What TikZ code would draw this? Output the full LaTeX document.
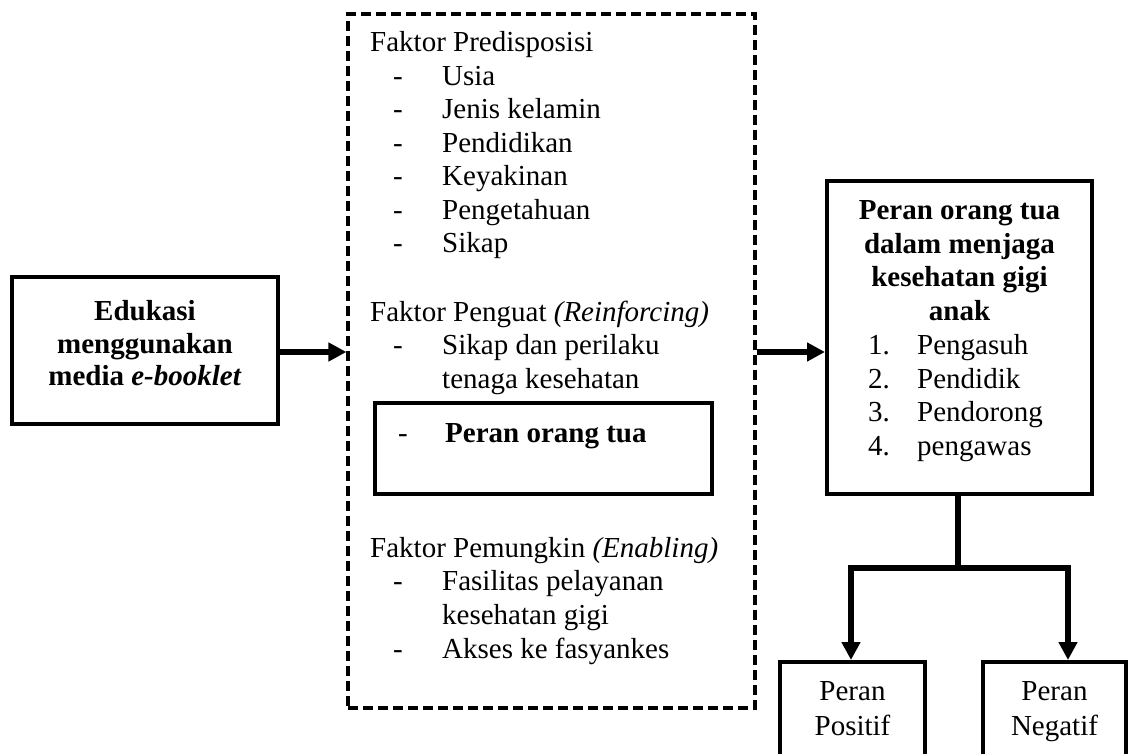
\documentclass[tikz,border=0pt]{standalone}
\usepackage{fontspec}
\setmainfont{Liberation Serif}
\usetikzlibrary{arrows.meta}
\newcommand{\fsz}{\fontsize{29}{33.5}\selectfont}
\tikzset{
  boxn/.style={draw, line width=4pt, inner sep=0pt, line join=miter},
  dashbox/.style={draw, line width=3.2pt, inner sep=0pt, dash pattern=on 10pt off 5pt},
  txt/.style={anchor=base west, inner sep=0pt, font=\fsz},
  ctxt/.style={anchor=base, inner sep=0pt, font=\fsz},
  arr/.style={line width=6pt, -{Triangle[length=18pt,width=18pt]}},
  lin/.style={line width=6pt}
}
\begin{document}
\begin{tikzpicture}[x=1pt,y=-1pt]
\useasboundingbox (0,0) rectangle (1128,754);
\clip (0,0) rectangle (1128,754);
% boxes
\node[boxn, minimum width=266pt, minimum height=147pt] (left) at (145,350.5) {};
\node[dashbox, minimum width=407pt, minimum height=694pt] (dash) at (551.5,361) {};
\node[boxn, minimum width=337pt, minimum height=91pt] (inner) at (543.5,448.5) {};
\node[boxn, minimum width=265pt, minimum height=313pt] (right) at (959.5,337.5) {};
\node[boxn, minimum width=145pt, minimum height=138pt] (pos) at (852.5,731) {};
\node[boxn, minimum width=143pt, minimum height=138pt] (neg) at (1054.5,731) {};
% left box text
\node[ctxt, font=\fsz\bfseries] (l1) at (145,320) {Edukasi};
\node[ctxt, font=\fsz\bfseries] (l2) at (145,353) {menggunakan};
\node[ctxt, font=\fsz\bfseries] (l3) at (145,385) {media \textit{e-booklet}};
% dashed box text
\node[txt] (h1) at (370,52) {Faktor Predisposisi};
\foreach \y/\t [count=\i] in {85.5/Usia, 119/Jenis kelamin, 152.5/Pendidikan, 186/Keyakinan, 219.5/Pengetahuan, 253/Sikap}{
  \node[txt] (pd\i) at (393,\y) {-};
  \node[txt] (pt\i) at (442,\y) {\t};
}
\node[txt] (h2) at (370,321) {Faktor Penguat \textit{(Reinforcing)}};
\node[txt] (gd1) at (393,354) {-};
\node[txt] (gt1) at (442,354) {Sikap dan perilaku};
\node[txt] (gt2) at (442,388) {tenaga kesehatan};
\node[txt] (id) at (398,442) {-};
\node[txt, font=\fsz\bfseries] (it) at (445,442) {Peran orang tua};
\node[txt] (h3) at (370,557) {Faktor Pemungkin \textit{(Enabling)}};
\node[txt] (ed1) at (393,590) {-};
\node[txt] (et1) at (442,590) {Fasilitas pelayanan};
\node[txt] (et2) at (442,624) {kesehatan gigi};
\node[txt] (ed2) at (393,658) {-};
\node[txt] (et3) at (442,658) {Akses ke fasyankes};
% right box text
\node[ctxt, font=\fsz\bfseries] (r1) at (959.5,220) {Peran orang tua};
\node[ctxt, font=\fsz\bfseries] (r2) at (959.5,253.5) {dalam menjaga};
\node[ctxt, font=\fsz\bfseries] (r3) at (959.5,287) {kesehatan gigi};
\node[ctxt, font=\fsz\bfseries] (r4) at (959.5,320.5) {anak};
\foreach \y/\t [count=\i] in {354.5/Pengasuh, 388/Pendidik, 421.5/Pendorong, 455/pengawas}{
  \node[txt] (rn\i) at (868,\y) {\i.};
  \node[txt] (rt\i) at (917,\y) {\t};
}
% bottom texts
\node[ctxt] (p1) at (852.5,700) {Peran};
\node[ctxt] (p2) at (852.5,735) {Positif};
\node[ctxt] (n1) at (1054.5,700) {Peran};
\node[ctxt] (n2) at (1054.5,735) {Negatif};
% connectors
\coordinate (a1) at (0,352);
\draw[arr] (left.east |- a1) -- (dash.west |- a1);
\draw[arr] (dash.east |- a1) -- (right.west |- a1);
\coordinate (j) at (958,568);
\coordinate (jl) at (851,568);
\coordinate (jr) at (1068,568);
\draw[lin] (right.south -| j) -- (j);
\draw[arr, line join=miter] ([xshift=3pt]j) -- (jl) -- (jl |- pos.north);
\draw[arr, line join=miter] ([xshift=-3pt]j) -- (jr) -- (jr |- neg.north);
\end{tikzpicture}
\end{document}
